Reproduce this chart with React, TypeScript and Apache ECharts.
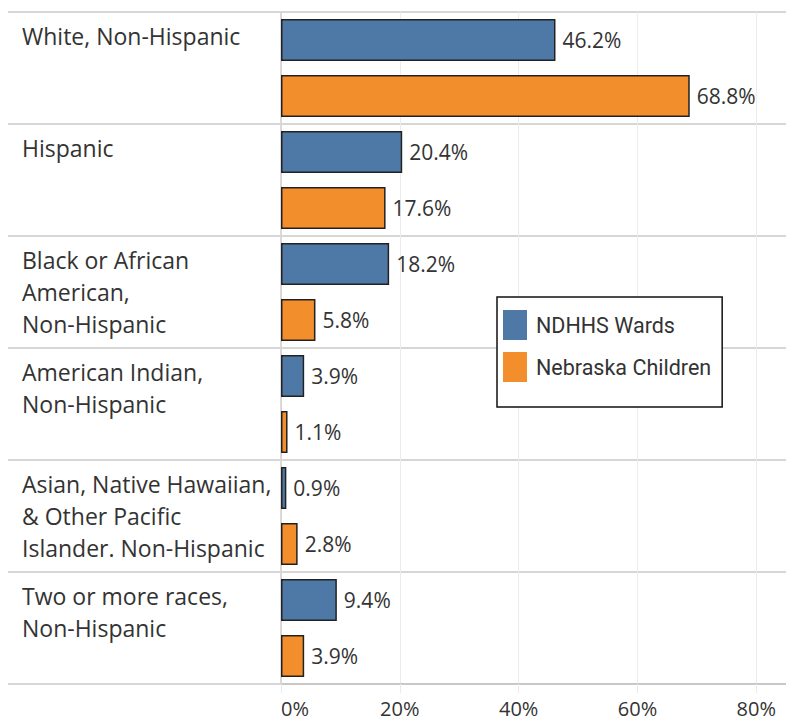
import React, { useEffect, useRef } from "react";
import * as echarts from "echarts";

const categories = [
  "White, Non-Hispanic",
  "Hispanic",
  "Black or African\nAmerican,\nNon-Hispanic",
  "American Indian,\nNon-Hispanic",
  "Asian, Native Hawaiian,\n& Other Pacific\nIslander. Non-Hispanic",
  "Two or more races,\nNon-Hispanic",
];
const ndhhsWards = [46.2, 20.4, 18.2, 3.9, 0.9, 9.4];
const nebraskaChildren = [68.8, 17.6, 5.8, 1.1, 2.8, 3.9];
const seriesNames = ["NDHHS Wards", "Nebraska Children"];
const xTicks = [0, 20, 40, 60, 80];

const FONT = "Open Sans";

export default function App() {
  const ref = useRef<HTMLDivElement>(null);
  useEffect(() => {
    document.body.style.margin = "0";
    const chart = echarts.init(ref.current!, null, { renderer: "svg" });
    const padLines = (s: string) => {
      const lines = s.split("\n");
      while (lines.length < 3) lines.push(" ");
      return lines.join("\n");
    };
    const labelCommon = {
      show: true,
      position: "right" as const,
      distance: 7,
      fontFamily: FONT,
      fontSize: 21,
      color: "#333",
      formatter: (p: any) => p.value.toFixed(1) + "%",
    };
    chart.setOption({
      animation: false,
      backgroundColor: "#fff",
      grid: { left: 281, top: 12, right: 0, bottom: 39, containLabel: false },
      legend: {
        left: 497,
        top: 297,
        orient: "vertical",
        data: seriesNames,
        icon: "rect",
        itemWidth: 24,
        itemHeight: 30,
        itemGap: 12,
        padding: [13, 11, 25, 6],
        borderColor: "#111",
        borderWidth: 1.5,
        backgroundColor: "#fff",
        itemStyle: { borderWidth: 0 },
        textStyle: {
          fontFamily: "Roboto",
          fontSize: 21.5,
          color: "#333",
          padding: [0, 0, 0, 4],
        },
      },
      xAxis: {
        type: "value",
        min: 0,
        max: 85,
        interval: 20,
        axisLine: { show: true, lineStyle: { color: "#c8c8c8", width: 2 } },
        axisTick: { show: true, length: 9, lineStyle: { color: "#eaeaea" } },
        splitLine: { show: true, lineStyle: { color: "#ececec", width: 1 } },
        axisLabel: {
          fontFamily: FONT,
          fontSize: 20,
          lineHeight: 20,
          color: "#333",
          margin: 14,
          showMaxLabel: false,
          alignMinLabel: "left",
          formatter: (v: number) => (xTicks.includes(v) ? v + "%" : ""),
        },
      },
      yAxis: {
        type: "category",
        inverse: true,
        data: categories,
        axisLine: { show: true, lineStyle: { color: "#cfcfcf", width: 1.5 } },
        axisTick: { show: true, length: 273, lineStyle: { color: "#d6d6d6", width: 2 } },
        splitLine: { show: true, lineStyle: { color: "#d6d6d6", width: 2 } },
        axisLabel: {
          align: "left",
          margin: 259,
          fontFamily: FONT,
          fontSize: 23,
          color: "#333",
          lineHeight: 32,
          verticalAlign: "middle",
          padding: [14, 0, 0, 0],
          formatter: (v: string) => padLines(v),
        },
      },
      series: [
        {
          name: seriesNames[0],
          type: "bar",
          data: ndhhsWards,
          barWidth: 42,
          barGap: "33%",
          itemStyle: { color: "#4e79a7", borderColor: "#222", borderWidth: 1.5 },
          label: labelCommon,
        },
        {
          name: seriesNames[1],
          type: "bar",
          data: nebraskaChildren,
          barWidth: 42,
          barGap: "33%",
          itemStyle: { color: "#f28e2b", borderColor: "#222", borderWidth: 1.5 },
          label: labelCommon,
        },
      ],
    });
    return () => chart.dispose();
  }, []);
  return (
    <div
      ref={ref}
      style={{ position: "absolute", left: 0, top: 0, width: 786, height: 723 }}
    />
  );
}
